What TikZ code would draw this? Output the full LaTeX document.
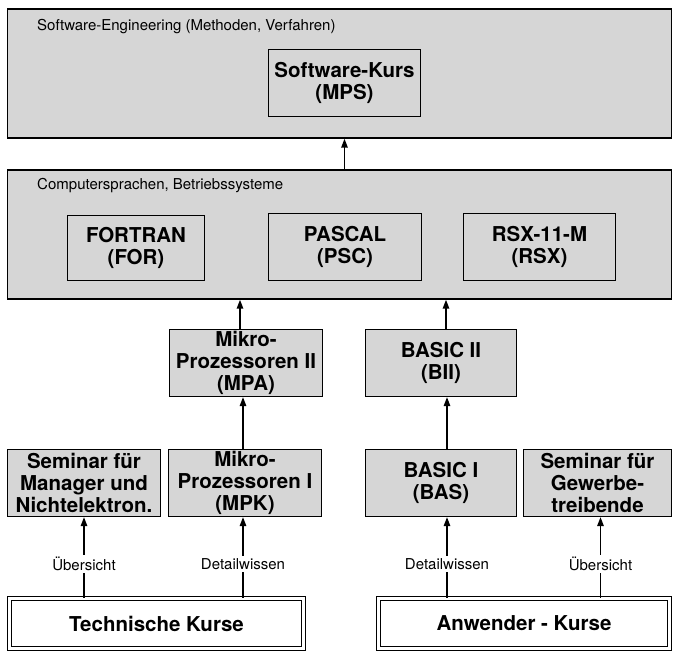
\documentclass[tikz,border=0pt]{standalone}
\usepackage{fontspec}
\setmainfont{TeX Gyre Heros}
\usetikzlibrary{arrows.meta}

\definecolor{raster}{gray}{0.84}

\tikzset{
  area/.style={draw, line width=1.5pt, fill=raster, minimum width=664pt, minimum height=129pt},
  kurs/.style={draw, line width=1.3pt, fill=raster, align=center, inner sep=0pt,
    minimum height=67pt, font=\fontsize{20.5}{22}\selectfont\bfseries},
  basis/.style={draw, line width=1.1pt, double, double distance=2.6pt, fill=white,
    minimum height=50pt, font=\fontsize{20.5}{22}\selectfont\bfseries},
  info/.style={font=\fontsize{15}{16}\selectfont, inner sep=2pt},
  pfeil/.style={-{Triangle[length=9pt,width=6.5pt]}, line width=1.5pt},
}

\begin{document}
\begin{tikzpicture}[x=1pt, y=-1pt]
    \useasboundingbox (0,0) rectangle (675,652);

    % Bereiche
    \node[area] (se) at (339.5, 73.5) {};
    \node[info, anchor=west] (selab) at (35, 27) {Software-Engineering (Methoden, Verfahren)};
    \node[area] (cs) at (339.5, 234.5) {};
    \node[info, anchor=west] (cslab) at (35, 186) {Computersprachen, Betriebssysteme};

    % Kurse
    \node[kurs, minimum width=152pt] (mps) at (344.5, 83) {Software-Kurs\\(MPS)};
    \node[kurs, minimum width=137pt, minimum height=65pt] (for) at (136, 248) {FORTRAN\\(FOR)};
    \node[kurs, minimum width=153pt] (psc) at (345, 247) {PASCAL\\(PSC)};
    \node[kurs, minimum width=152pt] (rsx) at (539.5, 247) {RSX-11-M\\(RSX)};
    \node[kurs, minimum width=153pt] (mpa) at (246, 363) {Mikro-\\Prozessoren II\\(MPA)};
    \node[kurs, minimum width=151pt] (bii) at (441, 363) {BASIC II\\(BII)};
    \node[kurs, minimum width=153pt] (smn) at (84, 483) {Seminar für\\Manager und\\Nichtelektron.};
    \node[kurs, minimum width=153pt] (mpk) at (245, 483) {Mikro-\\Prozessoren I\\(MPK)};
    \node[kurs, minimum width=151pt] (bas) at (441, 483) {BASIC I\\(BAS)};
    \node[kurs, minimum width=148pt] (sgw) at (597.5, 483) {Seminar für\\Gewerbe-\\treibende};

    % Einstieg
    \node[basis, minimum width=294pt] (tk) at (156.5, 623.5) {Technische Kurse};
    \node[basis, minimum width=291pt] (ak) at (524, 623.5) {Anwender - Kurse};

    % Pfeile
    \draw[pfeil] (cs.north -| mps.south) -- (se.south -| mps.south);
    \draw[pfeil] ([xshift=-6pt]mpa.north) -- ([xshift=-6pt]mpa.north |- cs.south);
    \draw[pfeil] ([xshift=5pt]bii.north) -- ([xshift=5pt]bii.north |- cs.south);
    \draw[pfeil] ([xshift=-2pt]mpk.north) -- ([xshift=-2pt]mpk.north |- mpa.south);
    \draw[pfeil] ([xshift=6pt]bas.north) -- ([xshift=6pt]bas.north |- bii.south);
    \draw[pfeil] (tk.north -| smn.south) -- node[info, fill=white, pos=0.42] {Übersicht} (smn.south);
    \draw[pfeil] ([xshift=-2pt]tk.north -| mpk.south) -- node[info, fill=white, pos=0.42] {Detailwissen} ([xshift=-2pt]mpk.south);
    \draw[pfeil] ([xshift=6pt]ak.north -| bas.south) -- node[info, fill=white, pos=0.42] {Detailwissen} ([xshift=6pt]bas.south);
    \draw[pfeil] ([xshift=3pt]ak.north -| sgw.south) -- node[info, fill=white, pos=0.42] {Übersicht} ([xshift=3pt]sgw.south);
\end{tikzpicture}
\end{document}
